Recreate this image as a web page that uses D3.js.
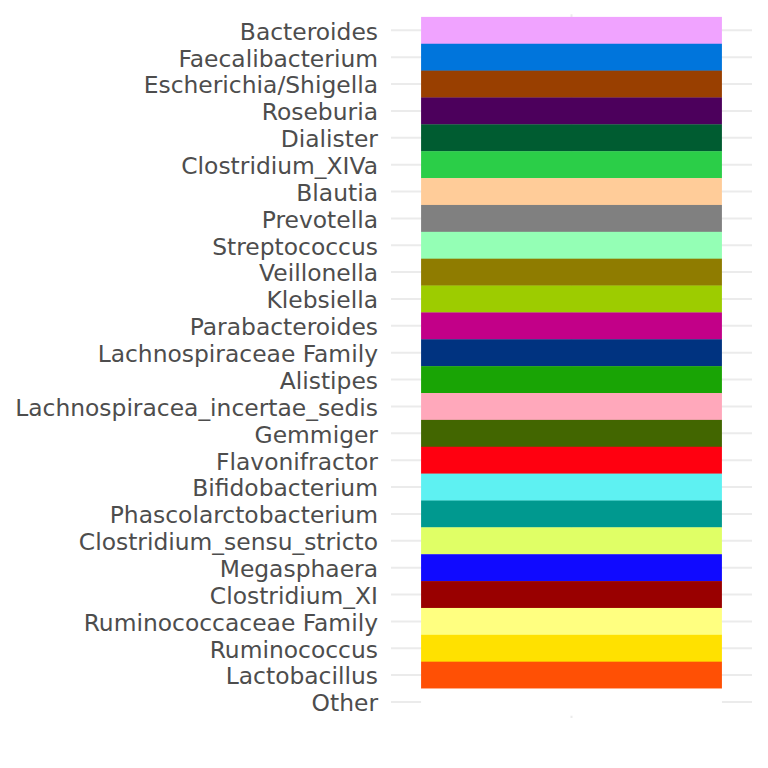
<!DOCTYPE html>
<html>
<head>
<meta charset="utf-8">
<script src="https://cdn.jsdelivr.net/npm/d3@7"></script>
<style>
  body { margin: 0; background: #fff; }
  text { font-family: "DejaVu Sans", sans-serif; }
</style>
</head>
<body>
<svg id="chart" width="768" height="768"></svg>
<script>
// genera, top to bottom
var genera = ["Bacteroides", "Faecalibacterium", "Escherichia/Shigella", "Roseburia",
              "Dialister", "Clostridium_XIVa", "Blautia", "Prevotella",
              "Streptococcus", "Veillonella", "Klebsiella", "Parabacteroides",
              "Lachnospiraceae Family", "Alistipes", "Lachnospiracea_incertae_sedis",
              "Gemmiger", "Flavonifractor", "Bifidobacterium", "Phascolarctobacterium",
              "Clostridium_sensu_stricto", "Megasphaera", "Clostridium_XI",
              "Ruminococcaceae Family", "Ruminococcus", "Lactobacillus", "Other"];

var colours = ["#F0A3FF", "#0075DC", "#993F00", "#4C005C",
               "#005C31", "#2BCE48", "#FFCC99", "#808080",
               "#94FFB5", "#8F7C00", "#9DCC00", "#C20088",
               "#003380", "#19A405", "#FFA8BB",
               "#426600", "#FF0010", "#5EF1F2", "#00998F",
               "#E0FF66", "#100AFF", "#990000",
               "#FFFF80", "#FFE100", "#FF5005", "#FFFFFF"];

// single column
var columns = ["key"];

var svg = d3.select("#chart");

var panel = { left: 391, right: 752, top: 14.2, bottom: 718.1 };

var y = d3.scaleBand()
    .domain(genera)
    .range([panel.top, panel.bottom])
    .paddingInner(0)
    .paddingOuter(0.1);

var x = d3.scaleBand()
    .domain(columns)
    .range([panel.left, panel.right])
    .paddingInner(0)
    .paddingOuter(0.1);

var fill = d3.scaleOrdinal()
    .domain(genera)
    .range(colours);

// grid lines
svg.append("g")
    .selectAll("line")
    .data(genera)
    .enter()
    .append("line")
    .attr("x1", panel.left)
    .attr("x2", panel.right)
    .attr("y1", function (d) { return y(d) + y.bandwidth() / 2; })
    .attr("y2", function (d) { return y(d) + y.bandwidth() / 2; })
    .attr("stroke", "#ebebeb")
    .attr("stroke-width", 2);

svg.append("g")
    .selectAll("line")
    .data(columns)
    .enter()
    .append("line")
    .attr("x1", function (d) { return x(d) + x.bandwidth() / 2; })
    .attr("x2", function (d) { return x(d) + x.bandwidth() / 2; })
    .attr("y1", panel.top)
    .attr("y2", panel.bottom)
    .attr("stroke", "#ebebeb")
    .attr("stroke-width", 2);

// tiles
svg.append("g")
    .selectAll("rect")
    .data(genera)
    .enter()
    .append("rect")
    .attr("x", x("key"))
    .attr("y", function (d) { return y(d); })
    .attr("width", x.bandwidth())
    .attr("height", y.bandwidth() + 0.3)
    .attr("fill", function (d) { return fill(d); });

// y axis labels
var yAxis = d3.axisLeft(y).tickSize(0).tickPadding(13);
var gy = svg.append("g")
    .attr("transform", "translate(" + panel.left + ",0)")
    .call(yAxis);
gy.select(".domain").remove();
gy.selectAll("text")
    .attr("fill", "#4d4d4d")
    .attr("dy", "0.4em")
    .style("font-size", "23.4px")
    .style("font-family", "DejaVu Sans, sans-serif");
</script>
</body>
</html>
